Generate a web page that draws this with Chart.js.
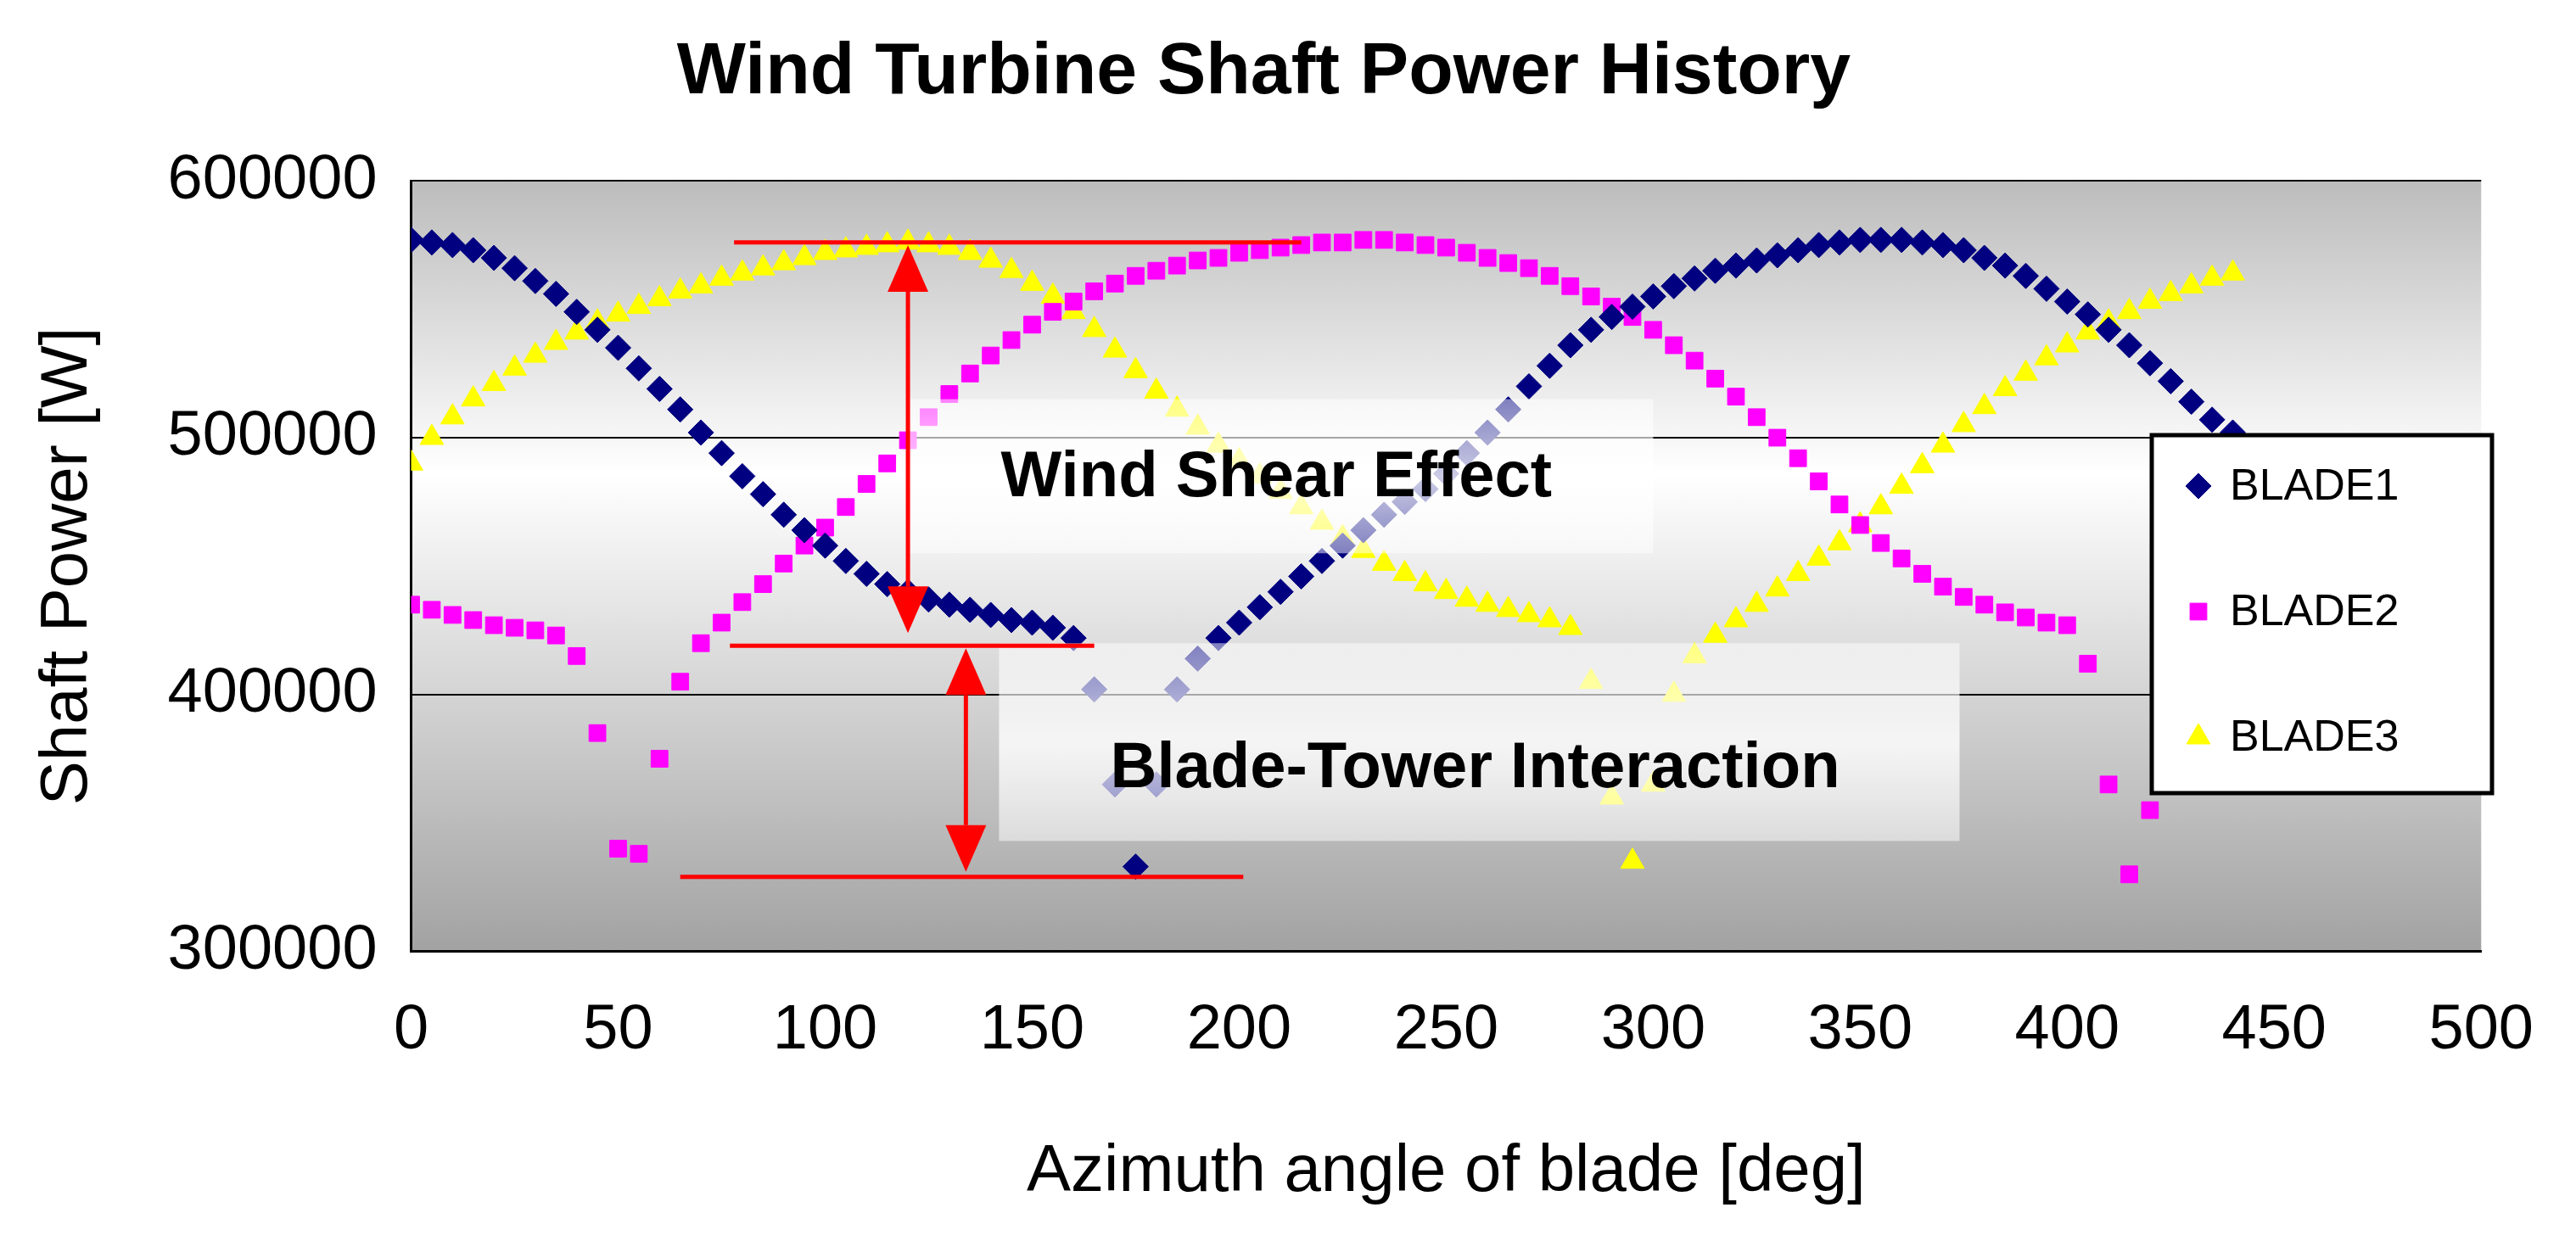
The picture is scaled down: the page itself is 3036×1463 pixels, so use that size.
<!DOCTYPE html>
<html><head><meta charset="utf-8">
<script src="https://cdn.jsdelivr.net/npm/chart.js@4"></script>
<style>html,body{margin:0;padding:0;background:#fff}#wrap{width:3036px;height:1463px}</style>
</head><body><div id="wrap"><canvas id="c" width="3036" height="1463"></canvas></div>
<script>
const angles = [0,5,10,15,20,25,30,35,40,45,50,55,60,65,70,75,80,85,90,95,100,105,110,115,120,125,130,135,140,145,150,155,160,165,170,175,180,185,190,195,200,205,210,215,220,225,230,235,240,245,250,255,260,265,270,275,280,285,290,295,300,305,310,315,320,325,330,335,340,345,350,355,360,365,370,375,380,385,390,395,400,405,410,415,420,425,430,435,440];
const blade1 = [577000,576000,575000,573000,570000,566000,561000,556000,549000,542000,535000,527000,519000,511000,502000,494000,485000,478000,470000,464000,458000,452000,447000,443000,440000,437000,435000,433000,431000,429000,428000,426000,422000,402000,365000,333000,365000,402000,414000,422000,428000,434000,440000,446000,452000,458000,464000,470000,475000,480000,486000,494000,502000,511000,520000,528000,536000,542000,547000,551000,555000,559000,562000,565000,567000,569000,571000,573000,575000,576000,577000,577000,577000,576000,575000,573000,570000,567000,563000,558000,553000,548000,542000,536000,529000,522000,514000,507000,502000];
const blade2 = [435000,433000,431000,429000,427000,426000,425000,423000,415000,385000,340000,338000,375000,405000,420000,428000,436000,443000,451000,458000,465000,473000,482000,490000,499000,508000,517000,525000,532000,538000,544000,549000,553000,557000,560000,563000,565000,567000,569000,570000,572000,573000,574000,575000,576000,576000,577000,577000,576000,575000,574000,572000,570000,568000,566000,563000,559000,555000,551000,547000,542000,536000,530000,523000,516000,508000,500000,492000,483000,474000,466000,459000,453000,447000,442000,438000,435000,432000,430000,428000,427000,412000,365000,330000,355000,null,null,null,null];
const blade3 = [490000,500000,508000,515000,521000,527000,532000,537000,541000,545000,548000,551000,554000,557000,559000,562000,564000,566000,568000,570000,572000,573000,574000,575000,576000,575000,574000,572000,569000,565000,560000,555000,549000,542000,534000,526000,518000,511000,504000,497000,491000,485000,479000,473000,467000,461000,456000,451000,447000,443000,440000,437000,435000,433000,431000,429000,426000,405000,360000,335000,365000,400000,415000,423000,429000,435000,441000,447000,453000,459000,466000,473000,481000,489000,497000,505000,512000,519000,525000,531000,536000,541000,545000,549000,553000,556000,559000,562000,564000];
const yTicks = [300000,400000,500000,600000];
const seriesNames = ['BLADE1','BLADE2','BLADE3'];
const colors = ['#000080','#FF00FF','#FFFF00'];
const shapes = ['rectRot','rect','triangle'];
const sizes = [15,14,16];

const mk = arr => angles.map((a,i)=>({x:a,y:arr[i]})).filter(p=>p.y!==null);
const F = 'Liberation Sans, Arial, sans-serif';

const deco = {
  id:'deco',
  beforeDraw(ch){
    const {ctx,chartArea:a}=ch;
    const g=ctx.createLinearGradient(0,a.top,0,a.bottom);
    g.addColorStop(0,'#bcbcbc');g.addColorStop(0.38,'#ffffff');g.addColorStop(1,'#a2a2a2');
    ctx.save();ctx.fillStyle=g;ctx.fillRect(a.left,a.top,a.right-a.left,a.bottom-a.top);ctx.restore();
  },
  afterDatasetsDraw(ch){
    const {ctx,scales:{x,y},chartArea:a}=ch;
    ctx.save();
    const box=(x0,x1,y0,y1,txt,tx,ty)=>{
      const L=x.getPixelForValue(x0),R=x.getPixelForValue(x1),T=y.getPixelForValue(y0),B=y.getPixelForValue(y1);
      const g=ctx.createLinearGradient(0,T,0,B);
      g.addColorStop(0,'rgba(255,255,255,0.5)');g.addColorStop(0.5,'rgba(255,255,255,0.8)');g.addColorStop(1,'rgba(255,255,255,0.5)');
      ctx.fillStyle=g;ctx.fillRect(L,T,R-L,B-T);
      ctx.fillStyle='#000';ctx.font='bold 76px '+F;ctx.textAlign='center';ctx.textBaseline='middle';
      ctx.fillText(txt,x.getPixelForValue(tx),y.getPixelForValue(ty));
    };
    box(120,300,515000,455000,'Wind Shear Effect',209,484000);
    box(142,374,420000,343000,'Blade-Tower Interaction',257,371000);
    ctx.strokeStyle='#ff0000';ctx.fillStyle='#ff0000';ctx.lineWidth=5;
    const hl=(x0,x1,v)=>{ctx.beginPath();ctx.moveTo(x.getPixelForValue(x0),y.getPixelForValue(v));ctx.lineTo(x.getPixelForValue(x1),y.getPixelForValue(v));ctx.stroke();};
    hl(78,215,576000);hl(77,165,419000);hl(65,201,329000);
    const arrow=(xv,v0,v1)=>{
      const px=x.getPixelForValue(xv),t=y.getPixelForValue(v0),b=y.getPixelForValue(v1);
      const h=55,w=24;
      ctx.beginPath();ctx.moveTo(px,t+h);ctx.lineTo(px,b-h);ctx.stroke();
      ctx.beginPath();ctx.moveTo(px,t);ctx.lineTo(px-w,t+h);ctx.lineTo(px+w,t+h);ctx.closePath();ctx.fill();
      ctx.beginPath();ctx.moveTo(px,b);ctx.lineTo(px-w,b-h);ctx.lineTo(px+w,b-h);ctx.closePath();ctx.fill();
    };
    arrow(120,575000,424000);arrow(134,418000,331000);
    const LX=2536,LY=513,LW=401,LH=422;
    ctx.fillStyle='#fff';ctx.fillRect(LX,LY,LW,LH);
    ctx.strokeStyle='#000';ctx.lineWidth=5;ctx.strokeRect(LX,LY,LW,LH);
    ctx.font='52px '+F;ctx.textAlign='left';ctx.textBaseline='middle';
    seriesNames.forEach((n,i)=>{
      const cy=LY+60+i*148;
      ctx.fillStyle=colors[i];ctx.strokeStyle=colors[i];ctx.lineWidth=1;
      Chart.helpers.drawPoint(ctx,{pointStyle:shapes[i],radius:sizes[i],rotation:0,borderWidth:1},LX+55,cy);
      ctx.fillStyle='#000';ctx.fillText(n,LX+92,cy+2);
    });
    ctx.restore();
  }
};

new Chart(document.getElementById('c'),{
  type:'scatter',
  data:{datasets:[blade1,blade2,blade3].map((d,i)=>({label:seriesNames[i],data:mk(d),pointStyle:shapes[i],pointRadius:sizes[i],backgroundColor:colors[i],borderColor:colors[i],borderWidth:1}))},
  options:{
    responsive:false,animation:false,devicePixelRatio:1,
    layout:{padding:{left:30,right:87,top:20,bottom:30}},
    plugins:{legend:{display:false},tooltip:{enabled:false},
      title:{display:true,text:'Wind Turbine Shaft Power History',color:'#000',font:{family:F,size:86,weight:'bold'},padding:{top:15,bottom:75}}},
    scales:{
      x:{type:'linear',min:0,max:500,ticks:{stepSize:50,color:'#000',font:{family:F,size:74},padding:50},
         grid:{display:false,drawTicks:false},border:{color:'#000',width:3},
         title:{display:true,text:'Azimuth angle of blade [deg]',color:'#000',font:{family:F,size:78},padding:{top:25}}},
      y:{min:300000,max:600000,afterBuildTicks:s=>{s.ticks=yTicks.map(v=>({value:v}));},
         ticks:{color:'#000',font:{family:F,size:74},padding:40,callback:v=>String(v)},
         grid:{color:'#000',lineWidth:2,drawTicks:false},border:{color:'#000',width:3},
         title:{display:true,text:'Shaft Power [W]',color:'#000',font:{family:F,size:78},padding:{bottom:30}}}
    }
  },
  plugins:[deco]
});
</script></body></html>
